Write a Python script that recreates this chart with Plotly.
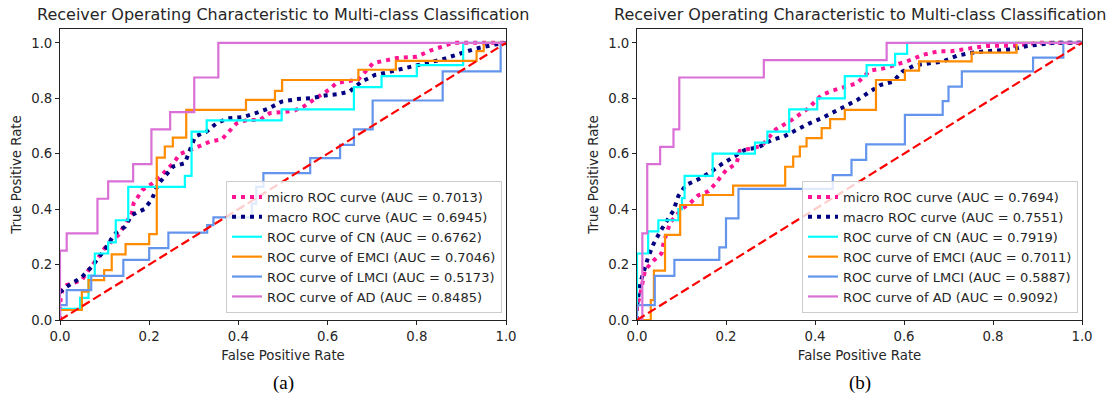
import plotly.graph_objects as go

# ---------------- data: panel (a) ----------------
a_micro_fpr = [0, 0, 0.005, 0.015, 0.049, 0.064, 0.086, 0.1, 0.131, 0.146, 0.161, 0.165, 0.185, 0.207, 0.228, 0.254, 0.269, 0.314, 0.336, 0.363, 0.381, 0.396, 0.42, 0.448, 0.47, 0.523, 0.546, 0.583, 0.605, 0.62, 0.669, 0.702, 0.755, 0.8, 0.83, 0.856, 0.88, 1]
a_micro_tpr = [0, 0.06, 0.108, 0.126, 0.144, 0.18, 0.226, 0.259, 0.307, 0.343, 0.385, 0.421, 0.469, 0.493, 0.523, 0.566, 0.599, 0.628, 0.644, 0.652, 0.686, 0.71, 0.722, 0.722, 0.746, 0.754, 0.77, 0.812, 0.833, 0.855, 0.868, 0.927, 0.945, 0.95, 0.972, 0.986, 1.0, 1.0]

a_macro_fpr = [0, 0.015, 0.049, 0.07, 0.1, 0.122, 0.146, 0.161, 0.189, 0.206, 0.22, 0.235, 0.254, 0.28, 0.303, 0.329, 0.351, 0.377, 0.41, 0.442, 0.469, 0.497, 0.531, 0.561, 0.594, 0.624, 0.65, 0.676, 0.706, 0.732, 0.766, 0.8, 0.83, 0.856, 0.904, 0.934, 0.975, 1]
a_macro_tpr = [0.1, 0.12, 0.155, 0.19, 0.253, 0.31, 0.337, 0.379, 0.4, 0.436, 0.49, 0.517, 0.554, 0.566, 0.662, 0.68, 0.71, 0.728, 0.732, 0.748, 0.764, 0.788, 0.797, 0.8, 0.81, 0.815, 0.825, 0.86, 0.884, 0.893, 0.905, 0.92, 0.928, 0.94, 0.965, 0.98, 0.994, 1.0]

a_cn_fpr = [0, 0, 0.045, 0.045, 0.064, 0.064, 0.078, 0.078, 0.108, 0.108, 0.125, 0.125, 0.153, 0.153, 0.28, 0.28, 0.295, 0.295, 0.329, 0.329, 0.497, 0.497, 0.659, 0.659, 0.721, 0.721, 0.8, 0.8, 0.904, 0.904, 1]
a_cn_tpr = [0, 0.04, 0.04, 0.08, 0.08, 0.16, 0.16, 0.24, 0.24, 0.28, 0.28, 0.36, 0.36, 0.48, 0.48, 0.52, 0.52, 0.68, 0.68, 0.72, 0.72, 0.76, 0.76, 0.84, 0.84, 0.88, 0.88, 0.92, 0.92, 1.0, 1.0]

a_emci_fpr = [0, 0, 0.049, 0.049, 0.064, 0.064, 0.099, 0.099, 0.116, 0.116, 0.147, 0.147, 0.2, 0.2, 0.217, 0.217, 0.235, 0.235, 0.253, 0.253, 0.283, 0.283, 0.417, 0.417, 0.482, 0.482, 0.498, 0.498, 0.669, 0.669, 0.753, 0.753, 0.934, 0.934, 0.95, 0.95, 1]
a_emci_tpr = [0, 0.036, 0.036, 0.102, 0.102, 0.144, 0.144, 0.18, 0.18, 0.237, 0.237, 0.274, 0.274, 0.31, 0.31, 0.586, 0.586, 0.626, 0.626, 0.658, 0.658, 0.758, 0.758, 0.794, 0.794, 0.827, 0.827, 0.866, 0.866, 0.903, 0.903, 0.935, 0.935, 0.97, 0.97, 1.0, 1.0]

a_lmci_fpr = [0, 0, 0.015, 0.015, 0.07, 0.07, 0.142, 0.142, 0.2, 0.2, 0.243, 0.243, 0.33, 0.33, 0.344, 0.344, 0.43, 0.43, 0.44, 0.44, 0.456, 0.456, 0.561, 0.561, 0.628, 0.628, 0.659, 0.659, 0.701, 0.701, 0.858, 0.858, 0.988, 0.988, 1]
a_lmci_tpr = [0, 0.054, 0.054, 0.108, 0.108, 0.159, 0.159, 0.217, 0.217, 0.259, 0.259, 0.315, 0.315, 0.342, 0.342, 0.37, 0.37, 0.42, 0.42, 0.48, 0.48, 0.53, 0.53, 0.584, 0.584, 0.632, 0.632, 0.688, 0.688, 0.792, 0.792, 0.897, 0.897, 1.0, 1.0]

a_ad_fpr = [0, 0, 0.015, 0.015, 0.084, 0.084, 0.108, 0.108, 0.164, 0.164, 0.205, 0.205, 0.247, 0.247, 0.301, 0.301, 0.355, 0.355, 1]
a_ad_tpr = [0, 0.25, 0.25, 0.3125, 0.3125, 0.4375, 0.4375, 0.5, 0.5, 0.5625, 0.5625, 0.6875, 0.6875, 0.75, 0.75, 0.875, 0.875, 1.0, 1.0]

a_auc = {"micro": "0.7013", "macro": "0.6945", "CN": "0.6762", "EMCI": "0.7046", "LMCI": "0.5173", "AD": "0.8485"}

# ---------------- data: panel (b) ----------------
b_micro_fpr = [0, 0, 0.007, 0.018, 0.037, 0.055, 0.06, 0.074, 0.1, 0.118, 0.138, 0.161, 0.175, 0.2, 0.224, 0.231, 0.28, 0.312, 0.348, 0.385, 0.415, 0.44, 0.494, 0.524, 0.554, 0.606, 0.643, 0.676, 0.706, 0.786, 0.846, 0.9, 1]
b_micro_tpr = [0, 0.05, 0.09, 0.18, 0.214, 0.24, 0.28, 0.35, 0.40, 0.42, 0.45, 0.465, 0.49, 0.54, 0.566, 0.61, 0.628, 0.688, 0.722, 0.764, 0.812, 0.828, 0.854, 0.90, 0.908, 0.933, 0.957, 0.969, 0.97, 0.989, 0.99, 1.0, 1.0]

b_macro_fpr = [0, 0.003, 0.007, 0.025, 0.037, 0.052, 0.082, 0.093, 0.11, 0.138, 0.164, 0.19, 0.216, 0.243, 0.273, 0.303, 0.33, 0.385, 0.415, 0.44, 0.467, 0.495, 0.52, 0.547, 0.575, 0.597, 0.624, 0.659, 0.688, 0.718, 0.748, 0.78, 0.81, 0.844, 0.874, 0.904, 0.937, 1]
b_macro_tpr = [0.05, 0.084, 0.132, 0.226, 0.274, 0.319, 0.395, 0.448, 0.487, 0.508, 0.532, 0.562, 0.587, 0.614, 0.623, 0.65, 0.662, 0.708, 0.728, 0.748, 0.768, 0.794, 0.82, 0.848, 0.86, 0.897, 0.919, 0.927, 0.933, 0.953, 0.963, 0.969, 0.973, 0.977, 0.988, 0.994, 1.0, 1.0]

b_cn_fpr = [0, 0, 0.025, 0.025, 0.048, 0.048, 0.093, 0.093, 0.101, 0.101, 0.107, 0.107, 0.17, 0.17, 0.265, 0.265, 0.293, 0.293, 0.342, 0.342, 0.405, 0.405, 0.467, 0.467, 0.516, 0.516, 0.58, 0.58, 0.607, 0.607, 1]
b_cn_tpr = [0, 0.24, 0.24, 0.32, 0.32, 0.36, 0.36, 0.40, 0.40, 0.44, 0.44, 0.52, 0.52, 0.60, 0.60, 0.64, 0.64, 0.68, 0.68, 0.76, 0.76, 0.80, 0.80, 0.88, 0.88, 0.92, 0.92, 0.96, 0.96, 1.0, 1.0]

b_emci_fpr = [0, 0.031, 0.031, 0.038, 0.038, 0.063, 0.063, 0.097, 0.097, 0.148, 0.148, 0.216, 0.216, 0.333, 0.333, 0.351, 0.351, 0.366, 0.366, 0.381, 0.381, 0.415, 0.415, 0.434, 0.434, 0.467, 0.467, 0.537, 0.537, 0.602, 0.602, 0.634, 0.634, 0.752, 0.752, 0.853, 0.853, 1]
b_emci_tpr = [0, 0, 0.072, 0.072, 0.178, 0.178, 0.307, 0.307, 0.415, 0.415, 0.451, 0.451, 0.485, 0.485, 0.553, 0.553, 0.59, 0.59, 0.626, 0.626, 0.656, 0.656, 0.692, 0.692, 0.725, 0.725, 0.758, 0.758, 0.866, 0.866, 0.90, 0.90, 0.933, 0.933, 0.965, 0.965, 1.0, 1.0]

b_lmci_fpr = [0, 0, 0.04, 0.04, 0.084, 0.084, 0.185, 0.185, 0.2, 0.2, 0.228, 0.228, 0.44, 0.44, 0.482, 0.482, 0.515, 0.515, 0.602, 0.602, 0.687, 0.687, 0.7, 0.7, 0.73, 0.73, 0.89, 0.89, 0.958, 0.958, 1]
b_lmci_tpr = [0, 0.054, 0.054, 0.159, 0.159, 0.217, 0.217, 0.262, 0.262, 0.367, 0.367, 0.473, 0.473, 0.523, 0.523, 0.578, 0.578, 0.634, 0.634, 0.74, 0.74, 0.79, 0.79, 0.842, 0.842, 0.897, 0.897, 0.947, 0.947, 1.0, 1.0]

b_ad_fpr = [0, 0.012, 0.012, 0.023, 0.023, 0.052, 0.052, 0.082, 0.082, 0.095, 0.095, 0.285, 0.285, 0.561, 0.561, 1]
b_ad_tpr = [0, 0, 0.3125, 0.3125, 0.5625, 0.5625, 0.625, 0.625, 0.6875, 0.6875, 0.875, 0.875, 0.9375, 0.9375, 1.0, 1.0]

b_auc = {"micro": "0.7694", "macro": "0.7551", "CN": "0.7919", "EMCI": "0.7011", "LMCI": "0.5887", "AD": "0.9092"}

class_names = ["CN", "EMCI", "LMCI", "AD"]
class_colors = ["#00FFFF", "#FF8C00", "#6495ED", "#DA70D6"]
tick_vals = [0.0, 0.2, 0.4, 0.6, 0.8, 1.0]
tick_text = ["0.0", "0.2", "0.4", "0.6", "0.8", "1.0"]
title_text = "Receiver Operating Characteristic to Multi-class Classification"
captions = ["(a)", "(b)"]

FONT = "DejaVu Sans"
TXT = "#262626"
FS = 13.3

panels = [
    dict(micro=(a_micro_fpr, a_micro_tpr), macro=(a_macro_fpr, a_macro_tpr),
         classes=[(a_cn_fpr, a_cn_tpr), (a_emci_fpr, a_emci_tpr), (a_lmci_fpr, a_lmci_tpr), (a_ad_fpr, a_ad_tpr)],
         auc=a_auc),
    dict(micro=(b_micro_fpr, b_micro_tpr), macro=(b_macro_fpr, b_macro_tpr),
         classes=[(b_cn_fpr, b_cn_tpr), (b_emci_fpr, b_emci_tpr), (b_lmci_fpr, b_lmci_tpr), (b_ad_fpr, b_ad_tpr)],
         auc=b_auc),
]

fig = go.Figure()
for i, p in enumerate(panels):
    xa = "x" if i == 0 else "x2"
    ya = "y" if i == 0 else "y2"
    lg = "legend" if i == 0 else "legend2"
    fig.add_trace(go.Scatter(x=p["micro"][0], y=p["micro"][1], mode="lines",
                             line=dict(color="#FF1493", width=4, dash="4px,5px"),
                             name="micro ROC curve (AUC = %s)" % p["auc"]["micro"],
                             xaxis=xa, yaxis=ya, legend=lg))
    fig.add_trace(go.Scatter(x=p["macro"][0], y=p["macro"][1], mode="lines",
                             line=dict(color="#000080", width=4, dash="4px,5px"),
                             name="macro ROC curve (AUC = %s)" % p["auc"]["macro"],
                             xaxis=xa, yaxis=ya, legend=lg))
    for (fx, ty), nm, col in zip(p["classes"], class_names, class_colors):
        fig.add_trace(go.Scatter(x=fx, y=ty, mode="lines", line=dict(color=col, width=2.2),
                                 name="ROC curve of %s (AUC = %s)" % (nm, p["auc"][nm]),
                                 xaxis=xa, yaxis=ya, legend=lg))
    fig.add_trace(go.Scatter(x=[0, 1], y=[0, 1], mode="lines",
                             line=dict(color="#FF0000", width=2.2, dash="9px,4px"),
                             showlegend=False, xaxis=xa, yaxis=ya, hoverinfo="skip"))

# the page's body margin is removed (see post_script), so figure pixels = page pixels
W, H = 1114, 399
X0a, X1a, X0b, X1b, YTOP, YBOT = 60, 506, 637, 1082, 29, 320
ML = X0a
MT = YTOP
MR = W - X1b
MB = H - YBOT
pw = W - ML - MR
ph = H - MT - MB
d1 = (X1a - X0a) / pw
d2 = (X0b - X0a) / pw

def px_x(page_x):
    return (page_x - X0a) / pw

def px_y(page_y):
    return (YBOT - page_y) / ph

axis_common = dict(showline=True, mirror=True, linecolor="#222", linewidth=1, showgrid=False,
                   zeroline=False, ticks="outside", ticklen=4, tickcolor="#222",
                   tickvals=tick_vals, ticktext=tick_text, automargin=False,
                   tickfont=dict(family=FONT, size=FS, color=TXT))
xt = dict(text="False Positive Rate", font=dict(family=FONT, size=FS, color=TXT), standoff=7)
yt = dict(text="True Positive Rate", font=dict(family=FONT, size=FS, color=TXT), standoff=6)

legend_common = dict(font=dict(family=FONT, size=13, color=TXT), bgcolor="rgba(255,255,255,0.8)",
                     bordercolor="#cccccc", borderwidth=1, xanchor="right", yanchor="bottom",
                     itemwidth=30, tracegroupgap=0, xref="paper", yref="paper")

fig.update_layout(
    width=W, height=H, margin=dict(l=ML, r=MR, t=MT, b=MB, autoexpand=False),
    paper_bgcolor="white", plot_bgcolor="white",
    xaxis=dict(domain=[0, d1], range=[0, 1], anchor="y", title=xt, **axis_common),
    yaxis=dict(domain=[0, 1], range=[0, 1.05], anchor="x", title=yt, **axis_common),
    xaxis2=dict(domain=[d2, 1], range=[0, 1], anchor="y2", title=xt, **axis_common),
    yaxis2=dict(domain=[0, 1], range=[0, 1.05], anchor="x2", title=yt, **axis_common),
    legend=dict(x=px_x(502), y=px_y(313), **legend_common),
    legend2=dict(x=px_x(1078), y=px_y(313), **legend_common),
    showlegend=True,
)

centers = [(X0a + X1a) / 2, (X0b + X1b) / 2]
for c, cap in zip(centers, captions):
    fig.add_annotation(text=title_text, x=px_x(c), y=px_y(15), xref="paper", yref="paper",
                       showarrow=False, xanchor="center", yanchor="middle",
                       font=dict(family=FONT, size=16, color=TXT))
    fig.add_annotation(text=cap, x=px_x(c), y=px_y(383), xref="paper", yref="paper",
                       showarrow=False, xanchor="center", yanchor="middle",
                       font=dict(family="Liberation Serif", size=19, color="black"))

fig.write_html("out.html", config={"displayModeBar": False},
               post_script="document.body.style.margin='0px';")
